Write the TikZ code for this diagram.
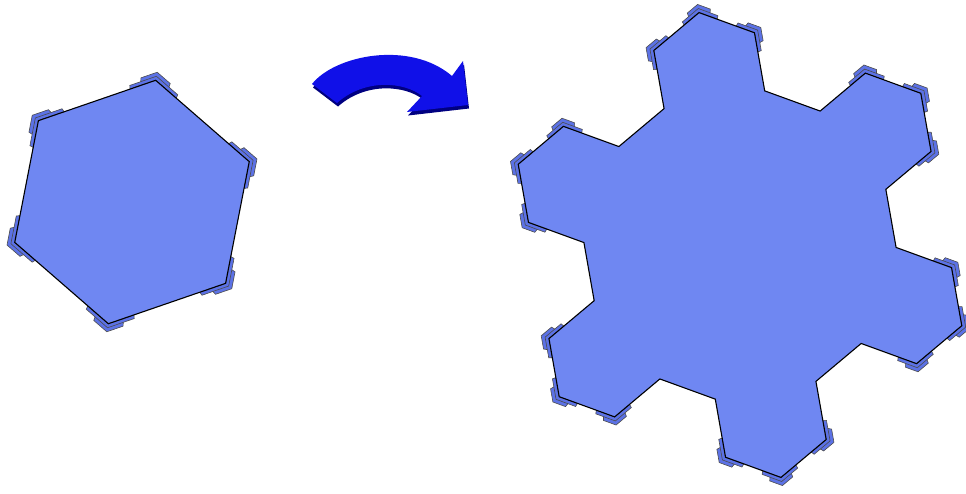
\documentclass[tikz,border=0pt]{standalone}
\usetikzlibrary{calc}
\definecolor{snowfill}{HTML}{6F87F2}
\definecolor{snowedge}{HTML}{5C72E6}
\definecolor{arrowblue}{HTML}{1010E8}
\definecolor{arrowdark}{HTML}{000080}

\begin{document}
\begin{tikzpicture}[x=1pt, y=1pt,
    flake/.style={fill=snowfill, draw=black, line width=1.1pt, line join=miter},
    fringe/.style={fill=snowedge, draw=black!70, line width=0.6pt, line join=miter},
    turnarrow/.style={fill=arrowblue, draw=none}
  ]
    \useasboundingbox (0,0) rectangle (966,-493);

    % left hexagon
    \coordinate (hc) at (132,-202);
    \foreach \i in {0,...,5}
      \coordinate (h\i) at ($(hc)+(19+60*\i:124)$);
    \foreach \i in {0,...,5} {
      \pgfmathtruncatemacro\ip{mod(\i+5,6)}
      \pgfmathtruncatemacro\inx{mod(\i+1,6)}
      \foreach \s/\f in {1.066/0.13, 1.033/0.22} {
        \coordinate (fa) at ($(h\i)!\f!(h\ip)$);
        \coordinate (fb) at ($(h\i)!\f!(h\inx)$);
        \draw[fringe] ($(hc)!\s!(fa)$) -- ($(hc)!\s!(h\i)$) -- ($(hc)!\s!(fb)$)
          -- (fb) -- (h\i) -- (fa) -- cycle;
      }
    }
    \draw[flake] (h0) \foreach \i in {1,...,5} {-- (h\i)} -- cycle;

    % star after the step
    \coordinate (sc) at (740,-245);
    \foreach \k in {0,...,5} {
      \pgfmathsetmacro\ang{100-60*\k}
      \coordinate (a\k) at ($(sc)+(\ang:177)$);
      \foreach \j in {0,...,4}
        \coordinate (s\k\j) at ($(a\k)+(\ang+120-60*\j:59)$);
    }
    \foreach \k in {0,...,5} {
      \foreach \j in {1,2,3} {
        \pgfmathtruncatemacro\jp{\j-1}
        \pgfmathtruncatemacro\jn{\j+1}
        \foreach \s/\f in {1.14/0.2, 1.07/0.33} {
          \coordinate (fa) at ($(s\k\j)!\f!(s\k\jp)$);
          \coordinate (fb) at ($(s\k\j)!\f!(s\k\jn)$);
          \draw[fringe] ($(a\k)!\s!(fa)$) -- ($(a\k)!\s!(s\k\j)$) -- ($(a\k)!\s!(fb)$)
            -- (fb) -- (s\k\j) -- (fa) -- cycle;
        }
      }
    }
    \draw[flake] (s00) \foreach \j in {1,...,4} {-- (s0\j)}
      \foreach \k in {1,...,5} {\foreach \j in {0,...,4} {-- (s\k\j)}} -- cycle;

    % curved arrow
    \coordinate (tailtop) at (312,-84);
    \coordinate (tailbot) at (337,-103);
    \coordinate (neck) at (452,-76);
    \coordinate (barbtop) at (463,-61);
    \coordinate (tip) at (468,-105);
    \coordinate (barbbot) at (407,-112);
    \coordinate (throat) at (422,-96);
    \fill[arrowdark] ([shift={(1,-3.5)}]tailtop) .. controls (336,-58.5) and (411,-43.5) .. ([shift={(1,-3.5)}]neck)
      -- ([shift={(1,-3.5)}]barbtop) -- ([shift={(1,-3.5)}]tip) -- ([shift={(1,-3.5)}]barbbot) -- ([shift={(1,-3.5)}]throat)
      .. controls (406,-85.5) and (366,-81.5) .. ([shift={(1,-3.5)}]tailbot) -- cycle;
    \path[turnarrow] (tailtop) .. controls (335,-55) and (410,-40) .. (neck)
      -- (barbtop) -- (tip) -- (barbbot) -- (throat)
      .. controls (405,-82) and (365,-78) .. (tailbot) -- cycle;
  \end{tikzpicture}
\end{document}
